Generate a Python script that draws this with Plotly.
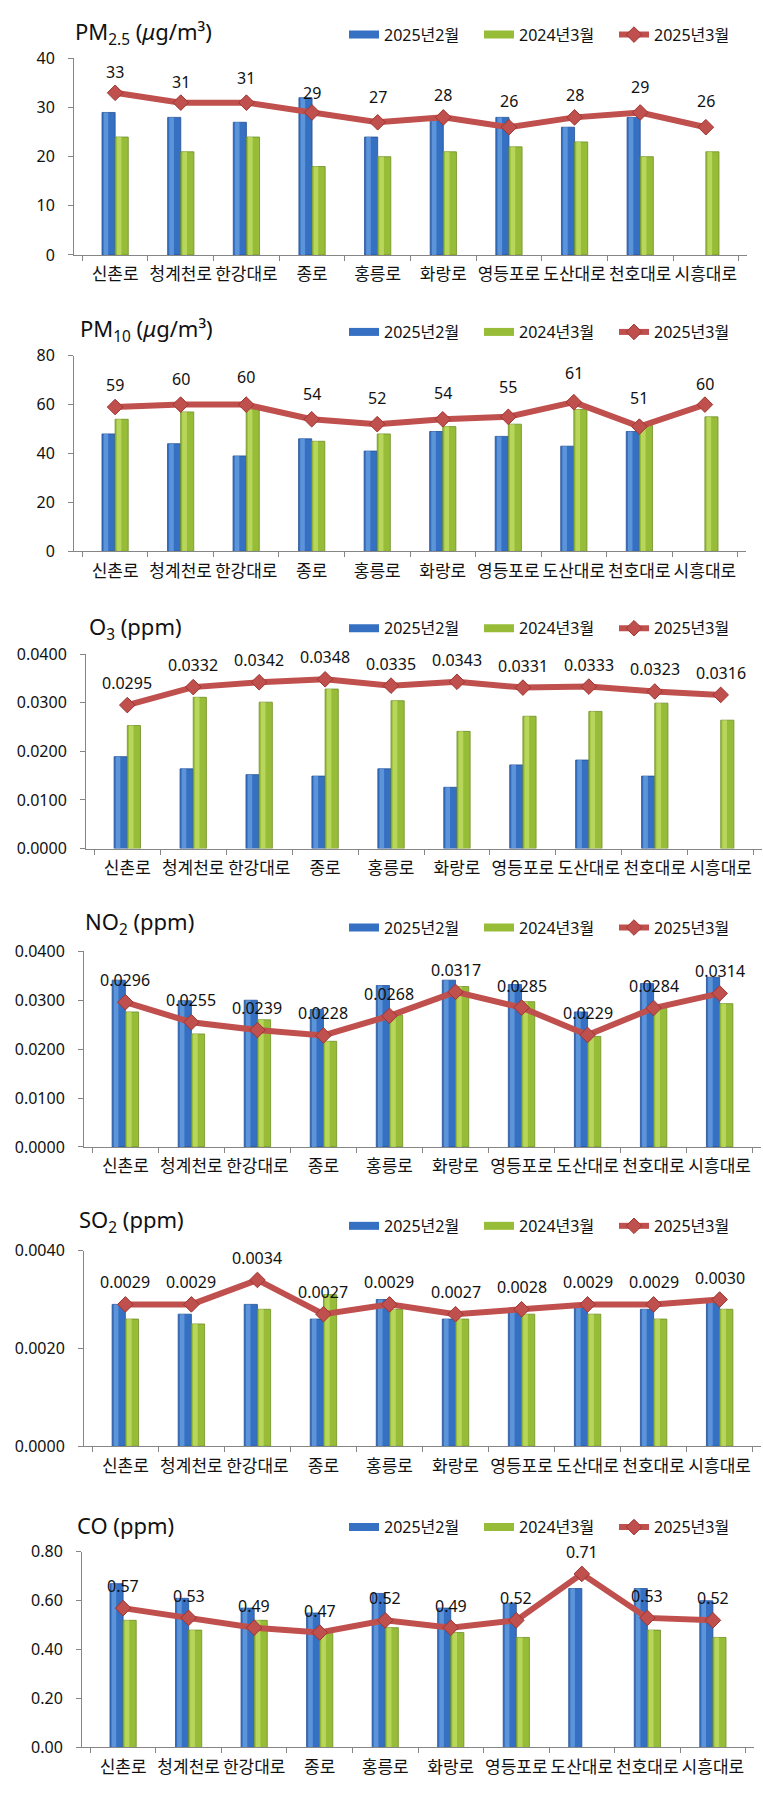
import plotly.graph_objects as go

# ---- data -----------------------------------------------------------------
stations = ["신촌로", "청계천로", "한강대로", "종로", "홍릉로",
            "화랑로", "영등포로", "도산대로", "천호대로", "시흥대로"]
name_feb25 = "2025년2월"
name_mar24 = "2024년3월"
name_mar25 = "2025년3월"

pm25_feb25 = [29, 28, 27, 32, 24, 28, 28, 26, 28, None]
pm25_mar24 = [24, 21, 24, 18, 20, 21, 22, 23, 20, 21]
pm25_mar25 = [33, 31, 31, 29, 27, 28, 26, 28, 29, 26]

pm10_feb25 = [48, 44, 39, 46, 41, 49, 47, 43, 49, None]
pm10_mar24 = [54, 57, 58, 45, 48, 51, 52, 58, 52, 55]
pm10_mar25 = [59, 60, 60, 54, 52, 54, 55, 61, 51, 60]

o3_feb25 = [0.0189, 0.0164, 0.0152, 0.0149, 0.0164, 0.0126, 0.0172, 0.0182, 0.0149, None]
o3_mar24 = [0.0253, 0.0311, 0.0301, 0.0328, 0.0304, 0.0241, 0.0272, 0.0282, 0.0299, 0.0264]
o3_mar25 = [0.0295, 0.0332, 0.0342, 0.0348, 0.0335, 0.0343, 0.0331, 0.0333, 0.0323, 0.0316]

no2_feb25 = [0.0341, 0.0299, 0.0300, 0.0281, 0.0330, 0.0341, 0.0332, 0.0276, 0.0334, 0.0347]
no2_mar24 = [0.0276, 0.0231, 0.0260, 0.0216, 0.0270, 0.0328, 0.0297, 0.0226, 0.0287, 0.0293]
no2_mar25 = [0.0296, 0.0255, 0.0239, 0.0228, 0.0268, 0.0317, 0.0285, 0.0229, 0.0284, 0.0314]

so2_feb25 = [0.0029, 0.0027, 0.0029, 0.0026, 0.0030, 0.0026, 0.0028, 0.0029, 0.0028, 0.0030]
so2_mar24 = [0.0026, 0.0025, 0.0028, 0.0031, 0.0028, 0.0026, 0.0027, 0.0027, 0.0026, 0.0028]
so2_mar25 = [0.0029, 0.0029, 0.0034, 0.0027, 0.0029, 0.0027, 0.0028, 0.0029, 0.0029, 0.0030]

co_feb25 = [0.67, 0.61, 0.57, 0.55, 0.63, 0.57, 0.59, 0.65, 0.65, 0.60]
co_mar24 = [0.52, 0.48, 0.52, 0.47, 0.49, 0.47, 0.45, None, 0.48, 0.45]
co_mar25 = [0.57, 0.53, 0.49, 0.47, 0.52, 0.49, 0.52, 0.71, 0.53, 0.52]

# ---- styling / layout -----------------------------------------------------
W, H = 763, 1795
FONT = "Noto Sans, Noto Sans CJK KR, sans-serif"
BLUE, BLUE_HI, BLUE_EDGE = "#3570c2", "#6aa0e2", "#234f96"
GREEN, GREEN_HI, GREEN_EDGE = "#97bd38", "#c3df68", "#6f8f24"
RED = "#c0504d"
AXIS = "#868686"
INK = "#111111"
BAR_W = 0.2      # width of one bar, in category units
HI_W = 0.07      # width of the lighter bevel stripe on each bar

panels = [
    dict(title="PM<sub>2.5</sub> (<i>μ</i>g/m³)", series=(pm25_feb25, pm25_mar24, pm25_mar25),
         ymax=40, dtick=10, tfmt=".0f", lfmt="{:.0f}",
         box=(74, 747, 48, 247), title_at=(73, 22), legend_y=24,
         shifts=[21, 21, 25, 19, 25, 22, 26, 22, 25, 26]),
    dict(title="PM<sub>10</sub> (<i>μ</i>g/m³)", series=(pm10_feb25, pm10_mar24, pm10_mar25),
         ymax=80, dtick=20, tfmt=".0f", lfmt="{:.0f}",
         box=(74, 746, 349, 547), title_at=(78, 323), legend_y=325,
         shifts=[22, 26, 28, 25, 26, 26, 30, 29, 29, 21]),
    dict(title="O<sub>3</sub> (ppm)", series=(o3_feb25, o3_mar24, o3_mar25),
         ymax=0.04, dtick=0.01, tfmt=".4f", lfmt="{:.4f}",
         box=(86, 762, 651, 848), title_at=(87, 625), legend_y=625,
         shifts=[22] * 10),
    dict(title="NO<sub>2</sub> (ppm)", series=(no2_feb25, no2_mar24, no2_mar25),
         ymax=0.04, dtick=0.01, tfmt=".4f", lfmt="{:.4f}",
         box=(84, 761, 952, 1150), title_at=(83, 923), legend_y=928,
         shifts=[22] * 10),
    dict(title="SO<sub>2</sub> (ppm)", series=(so2_feb25, so2_mar24, so2_mar25),
         ymax=0.004, dtick=0.002, tfmt=".4f", lfmt="{:.4f}",
         box=(84, 761, 1255, 1453), title_at=(77, 1225), legend_y=1230,
         shifts=[22] * 10),
    dict(title="CO (ppm)", series=(co_feb25, co_mar24, co_mar25),
         ymax=0.8, dtick=0.2, tfmt=".2f", lfmt="{:.2f}",
         box=(82, 754, 1560, 1758), title_at=(75, 1533), legend_y=1535,
         shifts=[22] * 10),
]

fig = go.Figure()
annotations = []
layout_axes = {}


def add_bar(vals, name, off, color, hi, edge, xa, ya, lg):
    # main bar plus a lighter stripe on its left side for a bevelled look
    fig.add_trace(go.Bar(x=stations, y=vals, name=name, xaxis=xa, yaxis=ya, showlegend=False,
                         offset=off, width=BAR_W,
                         marker=dict(color=color, line=dict(color=edge, width=0.8))))
    fig.add_trace(go.Bar(x=stations, y=vals, xaxis=xa, yaxis=ya, showlegend=False,
                         hoverinfo="skip", offset=off + 0.025, width=HI_W,
                         marker=dict(color=hi, opacity=0.75, line=dict(width=0))))
    # legend entry: a flat wide swatch in the bar colour
    fig.add_trace(go.Scatter(x=[None], y=[None], name=name, xaxis=xa, yaxis=ya, legend=lg,
                             mode="lines", line=dict(color=color, width=8), hoverinfo="skip"))


for k, p in enumerate(panels, start=1):
    sfx = "" if k == 1 else str(k)
    xa, ya = "x" + sfx, "y" + sfx
    lg = "legend" + sfx
    feb25, mar24, mar25 = p["series"]

    add_bar(feb25, name_feb25, -BAR_W, BLUE, BLUE_HI, BLUE_EDGE, xa, ya, lg)
    add_bar(mar24, name_mar24, 0.0, GREEN, GREEN_HI, GREEN_EDGE, xa, ya, lg)
    fig.add_trace(go.Scatter(x=stations, y=mar25, name=name_mar25, xaxis=xa, yaxis=ya,
                             legend=lg, mode="lines+markers",
                             line=dict(color=RED, width=6),
                             marker=dict(symbol="diamond", size=12, color=RED,
                                         line=dict(color="#9e3431", width=1))))

    x0, x1, yt, yb = p["box"]
    layout_axes["xaxis" + sfx] = dict(
        domain=[x0 / W, x1 / W], anchor=ya, type="category",
        showline=True, linecolor=AXIS, linewidth=1, showgrid=False, zeroline=False,
        ticks="outside", tickson="boundaries", ticklen=5, tickcolor=AXIS,
        tickangle=0, ticklabelstandoff=4,
        tickfont=dict(family=FONT, size=17, color=INK), fixedrange=True)
    layout_axes["yaxis" + sfx] = dict(
        domain=[1 - yb / H, 1 - yt / H], anchor=xa, range=[0, p["ymax"]],
        tick0=0, dtick=p["dtick"], tickformat=p["tfmt"],
        showline=True, linecolor=AXIS, linewidth=1, showgrid=False, zeroline=False,
        ticks="outside", ticklen=5, tickcolor=AXIS, ticklabelstandoff=10,
        tickfont=dict(family=FONT, size=16, color=INK), fixedrange=True)
    layout_axes[lg] = dict(
        orientation="h", x=344 / W, xanchor="left", y=1 - p["legend_y"] / H, yanchor="middle",
        font=dict(family=FONT, size=16, color=INK), bgcolor="rgba(0,0,0,0)",
        borderwidth=0, itemclick=False, entrywidth=90, traceorder="normal")

    # panel heading
    tx, ty = p["title_at"]
    annotations.append(dict(xref="paper", yref="paper", x=tx / W, y=1 - ty / H,
                            xanchor="left", yanchor="middle", showarrow=False,
                            text=p["title"], font=dict(family=FONT, size=22, color=INK)))
    # value labels above the 2025년3월 points
    for st, v, sh in zip(stations, mar25, p["shifts"]):
        annotations.append(dict(xref=xa, yref=ya, x=st, y=v, yshift=sh, showarrow=False,
                                text=p["lfmt"].format(v), yanchor="middle",
                                font=dict(family=FONT, size=16, color=INK)))

fig.update_layout(
    width=W, height=H, margin=dict(l=0, r=0, t=0, b=0),
    paper_bgcolor="white", plot_bgcolor="white",
    barmode="overlay",
    showlegend=True, annotations=annotations,
    font=dict(family=FONT, color=INK),
    **layout_axes,
)

fig.write_html("out.html", config={"displayModeBar": False})
